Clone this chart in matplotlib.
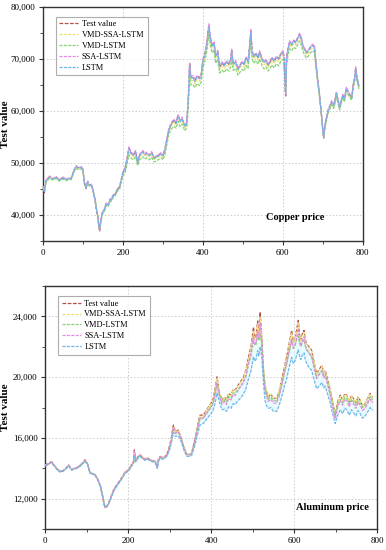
import matplotlib
matplotlib.use("Agg")
import matplotlib.pyplot as plt
from matplotlib.ticker import MultipleLocator, FuncFormatter

plt.rcParams['font.family'] = ['Liberation Serif', 'DejaVu Serif']

series_names = ["Test value", "VMD-SSA-LSTM", "VMD-LSTM", "SSA-LSTM", "LSTM"]
series_colors = ["#b5504a", "#f0e27a", "#86d474", "#e58ae0", "#6cb8ea"]

# ---------------- Copper ----------------
copper_x = [0, 4, 8, 17, 25, 33, 41, 50, 58, 65,
            71, 78, 83, 90, 96, 100, 104, 108, 112, 117,
            121, 125, 130, 134, 137, 140, 142, 145, 149, 154,
            158, 163, 168, 171, 176, 181, 186, 192, 196, 200,
            205, 210, 215, 220, 226, 232, 237, 242, 250, 256,
            259, 266, 272, 278, 284, 290, 296, 300, 305, 310,
            315, 322, 328, 333, 338, 343, 348, 355, 360, 364,
            367, 370, 376, 380, 386, 392, 396, 400, 405, 410,
            415, 419, 423, 428, 432, 437, 442, 448, 453, 459,
            465, 470, 472, 476, 482, 488, 493, 498, 503, 508,
            513, 517, 520, 523, 527, 533, 538, 542, 548, 553,
            558, 563, 568, 573, 578, 584, 590, 595, 600, 603,
            605, 607, 609, 613, 617, 622, 627, 632, 637, 642,
            646, 650, 655, 659, 664, 669, 675, 679, 683, 687,
            691, 695, 699, 702, 706, 710, 714, 717, 722, 727,
            731, 734, 738, 742, 746, 750, 754, 759, 764, 768,
            772, 776, 780, 782, 785, 788, 790]

copper_test = [45400, 44300, 46600, 47400, 46900, 47300, 46700, 47200, 46800, 47000,
               47050, 48600, 49300, 49000, 49200, 48800, 46000, 45100, 46400, 45600,
               45900, 44800, 43000, 41000, 39700, 37800, 36800, 39000, 40500, 41000,
               42200, 41800, 43000, 42900, 43800, 44000, 44900, 45400, 46800, 48100,
               48800, 50500, 52900, 52000, 51500, 52200, 50000, 51500, 52200, 51600,
               51900, 51400, 52000, 50900, 51200, 51500, 51800, 51300, 52500, 54500,
               56500, 57700, 58200, 57600, 59200, 58000, 58600, 57000, 57800, 63000,
               69200, 66500, 66600, 65800, 66700, 66300, 67000, 69800, 71000, 73000,
               76500, 74000, 72500, 73200, 70500, 71500, 68500, 69300, 68700, 69500,
               69000, 70000, 71700, 69000, 69500, 68000, 68800, 69400, 69000, 70200,
               69500, 72500, 75400, 71500, 70500, 71000, 70300, 71400, 70000, 69300,
               69800, 68800, 69500, 70200, 69600, 70400, 70000, 71000, 71400, 70500,
               66000, 62900, 70000, 72000, 73300, 72800, 73500, 73200, 74000, 74800,
               74000, 72500, 71800, 71200, 71600, 72300, 72700, 72300, 69000, 66000,
               63500, 60500, 57000, 54800, 57500, 59000, 60300, 60800, 61800, 61000,
               62200, 63500, 62000, 60600, 62000, 63000, 62300, 64400, 63500, 63000,
               62500, 65000, 66500, 68300, 66500, 65500, 64700]

copper_vmd_ssa_lstm = [45200, 44600, 46400, 47200, 46800, 47100, 46600, 47000, 46700, 46900,
                       46900, 48400, 49100, 48900, 49000, 48700, 46200, 45200, 46200, 45600,
                       45800, 44900, 43200, 41200, 39900, 38100, 37200, 38800, 40300, 40900,
                       42000, 41800, 42800, 42800, 43600, 43900, 44700, 45300, 46600, 47900,
                       48500, 50200, 52300, 51600, 51200, 51800, 50000, 51200, 51800, 51300,
                       51500, 51200, 51700, 50700, 51000, 51200, 51500, 51100, 52200, 54200,
                       56200, 57300, 57800, 57300, 58700, 57700, 58200, 56800, 57500, 62500,
                       68200, 65800, 65900, 65200, 66100, 65700, 66400, 69000, 70400, 72300,
                       75600, 73400, 72000, 72600, 70000, 70900, 68000, 68700, 68200, 68900,
                       68500, 69400, 71000, 68600, 69000, 67600, 68300, 68800, 68500, 69600,
                       69000, 71800, 74600, 71000, 70000, 70500, 69800, 70800, 69500, 68900,
                       69300, 68400, 69000, 69700, 69100, 69900, 69500, 70400, 70800, 70100,
                       66300, 63500, 69400, 71500, 72700, 72300, 73000, 72700, 73400, 74200,
                       73500, 72100, 71300, 70800, 71200, 71800, 72200, 71800, 68800, 66000,
                       63400, 60500, 57200, 55200, 57300, 58800, 60100, 60600, 61500, 60800,
                       61900, 63200, 61800, 60500, 61800, 62700, 62100, 64100, 63300, 62800,
                       62400, 64700, 66200, 67900, 66300, 65300, 64500]

copper_vmd_lstm = [45300, 44800, 46300, 47100, 46700, 47000, 46500, 46900, 46600, 46800,
                   46800, 48300, 48900, 48700, 48900, 48500, 46300, 45300, 46100, 45500,
                   45700, 44900, 43300, 41300, 40000, 38300, 37500, 38600, 40100, 40700,
                   41800, 41600, 42600, 42600, 43400, 43700, 44500, 45000, 46300, 47500,
                   48000, 49600, 51600, 51000, 50600, 51200, 49500, 50600, 51200, 50700,
                   51000, 50600, 51100, 50200, 50400, 50700, 51000, 50600, 51500, 53600,
                   55600, 56600, 57100, 56700, 58000, 57000, 57500, 56200, 56800, 61600,
                   67500, 65000, 65000, 64500, 65300, 64900, 65600, 68200, 69600, 71500,
                   74800, 72600, 71200, 71800, 69200, 70000, 67300, 67900, 67400, 68100,
                   67700, 68600, 70100, 67800, 68200, 66900, 67500, 68000, 67700, 68800,
                   68200, 70900, 73700, 70200, 69200, 69700, 69000, 70000, 68700, 68100,
                   68500, 67700, 68200, 68900, 68300, 69100, 68700, 69600, 70000, 69300,
                   66000, 63500, 68600, 70800, 72000, 71600, 72300, 72000, 72800, 73500,
                   72800, 71500, 70700, 70200, 70600, 71200, 71600, 71200, 68200, 65500,
                   63000, 60200, 57000, 55100, 57000, 58500, 59800, 60300, 61200, 60500,
                   61600, 62900, 61500, 60200, 61500, 62400, 61800, 63800, 63000, 62500,
                   62100, 64400, 65900, 67600, 66000, 65000, 64200]

copper_ssa_lstm = [45600, 44500, 46700, 47500, 47000, 47400, 46800, 47300, 46900, 47100,
                   47200, 48700, 49500, 49100, 49300, 48900, 46100, 45200, 46500, 45700,
                   46000, 44900, 43100, 41100, 39800, 37900, 37000, 39100, 40600, 41100,
                   42300, 41900, 43100, 43000, 43900, 44100, 45000, 45500, 46900, 48300,
                   49000, 50700, 53100, 52200, 51700, 52400, 50200, 51700, 52400, 51800,
                   52100, 51600, 52200, 51100, 51400, 51700, 52000, 51500, 52700, 54700,
                   56700, 57900, 58400, 57800, 59400, 58200, 58800, 57200, 58000, 63300,
                   69400, 66700, 66800, 66000, 66900, 66500, 67200, 70000, 71200, 73300,
                   76800, 74200, 72700, 73400, 70700, 71700, 68700, 69500, 68900, 69700,
                   69200, 70200, 71900, 69200, 69700, 68200, 69000, 69600, 69200, 70400,
                   69700, 72700, 75700, 71700, 70700, 71200, 70500, 71600, 70200, 69500,
                   70000, 69000, 69700, 70400, 69800, 70600, 70200, 71200, 71600, 70700,
                   66200, 63000, 70200, 72200, 73500, 73000, 73700, 73400, 74200, 75000,
                   74200, 72700, 72000, 71400, 71800, 72500, 72900, 72500, 69200, 66200,
                   63700, 60700, 57200, 55000, 57700, 59200, 60500, 61000, 62000, 61200,
                   62400, 63700, 62200, 60800, 62200, 63200, 62500, 64600, 63700, 63200,
                   62700, 65200, 66700, 68500, 66700, 65700, 64900]

copper_lstm = [45500, 44600, 46500, 47300, 46900, 47200, 46700, 47100, 46800, 47000,
               47000, 48500, 49200, 49000, 49100, 48800, 46300, 45300, 46300, 45700,
               45900, 44900, 43200, 41200, 39900, 38000, 37100, 38900, 40400, 41000,
               42100, 41800, 42900, 42900, 43700, 44000, 44800, 45300, 46700, 48000,
               48700, 50400, 52700, 51900, 51400, 52100, 50100, 51400, 52100, 51600,
               51800, 51400, 51900, 50900, 51100, 51400, 51700, 51300, 52400, 54300,
               56300, 57600, 58100, 57600, 59000, 58000, 58500, 57000, 57700, 62600,
               68800, 66300, 66400, 65700, 66600, 66200, 66900, 69600, 70800, 72700,
               76100, 73900, 72400, 73100, 70500, 71400, 68500, 69200, 68700, 69400,
               69000, 69900, 71500, 69000, 69400, 68000, 68700, 69300, 69000, 70100,
               69500, 72200, 75100, 71400, 70500, 71000, 70300, 71300, 70000, 69300,
               69700, 68800, 69400, 70100, 69600, 70300, 70000, 70900, 71300, 70500,
               66500, 63200, 69700, 71800, 73200, 72700, 73400, 73100, 73900, 74600,
               73900, 72500, 71800, 71200, 71600, 72200, 72600, 72200, 69000, 66100,
               63600, 60600, 57200, 55000, 57500, 59000, 60300, 60800, 61700, 61000,
               62100, 63400, 62000, 60600, 62000, 62900, 62300, 64300, 63500, 63000,
               62500, 64900, 66400, 68100, 66500, 65500, 64700]

# ---------------- Aluminum ----------------
alu_x = [0, 8, 15, 22, 29, 36, 43, 50, 56, 64,
         70, 77, 84, 90, 96, 102, 108, 114, 120, 126,
         133, 138, 142, 145, 149, 153, 158, 165, 172, 181,
         187, 193, 201, 207, 213, 215, 218, 224, 229, 235,
         241, 247, 253, 260, 266, 270, 273, 277, 285, 293,
         299, 304, 309, 314, 321, 325, 329, 335, 341, 347,
         353, 359, 365, 373, 381, 388, 395, 400, 405, 410,
         414, 420, 426, 432, 437, 442, 448, 453, 458, 463,
         468, 473, 478, 484, 490, 496, 502, 505, 508, 512,
         515, 518, 522, 526, 530, 534, 538, 544, 550, 558,
         564, 570, 576, 582, 588, 594, 598, 602, 606, 610,
         613, 616, 620, 624, 627, 630, 636, 642, 648, 654,
         660, 667, 671, 675, 681, 687, 693, 699, 705, 711,
         717, 722, 727, 733, 738, 743, 749, 754, 759, 765,
         771, 777, 783, 787, 790]

alu_test = [14230, 14300, 14450, 14200, 13950, 13790, 13850, 14000, 14230, 13900,
            14000, 14050, 14200, 14350, 14560, 14300, 13690, 13650, 13580, 13300,
            12810, 12200, 11600, 11390, 11500, 11720, 12100, 12600, 12900, 13250,
            13500, 13790, 13900, 14200, 14450, 15210, 14500, 14800, 14890, 14700,
            14600, 14700, 14560, 14500, 14450, 14000, 14600, 14780, 14700, 14890,
            15400, 16000, 16850, 16400, 16520, 16200, 15870, 15300, 14890, 14890,
            15000, 15700, 16520, 17500, 17500, 17800, 18100, 18300, 18600, 19300,
            20020, 19000, 18490, 18700, 18500, 18930, 18800, 19200, 19150, 19400,
            19600, 19800, 20020, 20500, 21330, 22000, 23300, 22600, 22650, 23700,
            23000, 24280, 22650, 20500, 19380, 19000, 18710, 18900, 18600, 18600,
            19100, 19800, 20600, 21330, 22200, 23080, 22300, 22540, 23100, 23740,
            22800, 22430, 22900, 23080, 22500, 22210, 22000, 21770, 21000, 20240,
            20500, 20790, 20300, 20460, 19800, 19150, 18300, 17510, 18400, 18820,
            18500, 18900, 18820, 18400, 18800, 18600, 18300, 18700, 18490, 18100,
            18270, 18600, 18930, 18700, 18710]

alu_vmd_ssa_lstm = [14200, 14280, 14420, 14200, 13960, 13800, 13850, 13990, 14200, 13920,
                    13990, 14040, 14180, 14330, 14520, 14300, 13720, 13660, 13590, 13320,
                    12850, 12250, 11650, 11420, 11500, 11700, 12080, 12570, 12880, 13220,
                    13480, 13760, 13880, 14170, 14420, 15050, 14520, 14770, 14860, 14700,
                    14600, 14680, 14560, 14500, 14440, 14050, 14560, 14750, 14700, 14870,
                    15350, 15950, 16750, 16400, 16480, 16200, 15880, 15330, 14930, 14900,
                    15000, 15650, 16450, 17420, 17450, 17750, 18050, 18250, 18550, 19200,
                    19900, 18980, 18480, 18650, 18480, 18880, 18770, 19150, 19100, 19350,
                    19550, 19750, 19950, 20420, 21200, 21850, 23050, 22500, 22550, 23450,
                    22900, 23900, 22600, 20600, 19450, 19050, 18750, 18900, 18620, 18600,
                    19080, 19750, 20550, 21250, 22100, 22900, 22250, 22450, 22950, 23500,
                    22750, 22400, 22800, 22950, 22450, 22200, 21950, 21700, 21000, 20250,
                    20450, 20700, 20300, 20400, 19800, 19150, 18350, 17600, 18350, 18750,
                    18480, 18850, 18780, 18400, 18750, 18580, 18300, 18650, 18470, 18120,
                    18250, 18550, 18880, 18680, 18700]

alu_vmd_lstm = [14200, 14270, 14400, 14180, 13950, 13800, 13840, 13980, 14180, 13920,
                13980, 14030, 14160, 14300, 14480, 14280, 13740, 13660, 13600, 13340,
                12880, 12300, 11700, 11450, 11520, 11700, 12050, 12530, 12850, 13180,
                13450, 13720, 13850, 14130, 14380, 14900, 14500, 14730, 14820, 14680,
                14580, 14650, 14540, 14480, 14420, 14080, 14520, 14700, 14660, 14830,
                15250, 15800, 16550, 16300, 16380, 16150, 15850, 15350, 14950, 14920,
                14980, 15550, 16300, 17250, 17300, 17600, 17900, 18100, 18350, 18950,
                19600, 18850, 18350, 18500, 18350, 18700, 18600, 18950, 18950, 19100,
                19300, 19500, 19700, 20100, 20850, 21400, 22400, 22100, 22150, 22800,
                22400, 22800, 22300, 20500, 19300, 18850, 18550, 18700, 18450, 18450,
                18900, 19500, 20250, 20900, 21650, 22350, 21900, 22050, 22450, 22700,
                22300, 22000, 22300, 22450, 22050, 21800, 21550, 21350, 20750, 20050,
                20200, 20450, 20100, 20200, 19600, 18950, 18200, 17550, 18150, 18550,
                18300, 18650, 18600, 18250, 18550, 18400, 18150, 18450, 18300, 18000,
                18100, 18350, 18700, 18550, 18550]

alu_ssa_lstm = [14220, 14290, 14430, 14190, 13950, 13790, 13850, 13990, 14210, 13900,
                13990, 14040, 14190, 14330, 14530, 14290, 13700, 13650, 13580, 13310,
                12830, 12230, 11640, 11410, 11490, 11710, 12080, 12570, 12870, 13220,
                13470, 13760, 13870, 14160, 14400, 15100, 14480, 14760, 14850, 14680,
                14580, 14670, 14540, 14480, 14420, 14020, 14550, 14740, 14680, 14850,
                15300, 15900, 16700, 16350, 16420, 16150, 15820, 15280, 14900, 14880,
                14960, 15600, 16350, 17300, 17300, 17550, 17850, 18000, 18300, 18950,
                19600, 18700, 18200, 18400, 18200, 18600, 18500, 18850, 18800, 19050,
                19250, 19450, 19650, 20100, 20900, 21550, 22700, 22200, 22250, 23100,
                22600, 23600, 22200, 20200, 19050, 18700, 18400, 18550, 18300, 18300,
                18750, 19450, 20200, 20900, 21750, 22550, 21900, 22100, 22600, 23200,
                22400, 22050, 22450, 22650, 22100, 21850, 21600, 21400, 20650, 19900,
                20150, 20400, 19950, 20100, 19450, 18800, 17950, 17250, 18050, 18450,
                18150, 18550, 18450, 18050, 18450, 18250, 17950, 18350, 18150, 17800,
                17950, 18250, 18550, 18350, 18400]

alu_lstm = [14150, 14250, 14380, 14150, 13900, 13750, 13800, 13950, 14150, 13880,
            13950, 14000, 14130, 14280, 14470, 14250, 13700, 13620, 13550, 13300,
            12850, 12280, 11700, 11450, 11480, 11650, 12000, 12480, 12800, 13150,
            13400, 13680, 13820, 14080, 14320, 14850, 14420, 14680, 14780, 14620,
            14520, 14600, 14480, 14420, 14370, 14000, 14450, 14640, 14600, 14780,
            15150, 15650, 16350, 16100, 16150, 15950, 15650, 15150, 14800, 14780,
            14850, 15350, 16000, 16850, 16950, 17200, 17450, 17600, 17850, 18350,
            18950, 18350, 17850, 17900, 17750, 18050, 17950, 18250, 18200, 18400,
            18550, 18700, 18900, 19250, 19900, 20400, 21350, 21050, 21150, 21750,
            21400, 22000, 21350, 19600, 18450, 18100, 17950, 18000, 17750, 17750,
            18150, 18700, 19350, 19900, 20650, 21300, 20900, 21050, 21450, 21800,
            21400, 21150, 21450, 21600, 21150, 20900, 20650, 20450, 19850, 19250,
            19400, 19650, 19300, 19400, 18850, 18300, 17550, 16950, 17500, 17850,
            17600, 17950, 17850, 17500, 17850, 17650, 17450, 17800, 17600, 17300,
            17450, 17700, 18000, 17850, 17850]

panels = [
    dict(x=copper_x, ys=[copper_test, copper_vmd_ssa_lstm, copper_vmd_lstm, copper_ssa_lstm, copper_lstm],
         pos=[0.111, 0.562, 0.829, 0.425], ylim=(35000, 80000), major=10000, minor=5000,
         title="Copper price", tpos=(0.79, 0.10), labx=-0.117),
    dict(x=alu_x, ys=[alu_test, alu_vmd_ssa_lstm, alu_vmd_lstm, alu_ssa_lstm, alu_lstm],
         pos=[0.117, 0.038, 0.860, 0.442], ylim=(10000, 26000), major=4000, minor=2000,
         title="Aluminum price", tpos=(0.865, 0.09), labx=-0.119),
]

fig = plt.figure(figsize=(3.86, 5.50), dpi=100)
fmt = FuncFormatter(lambda v, p: f"{int(v):,}")

for pnl in panels:
    ax = fig.add_axes(pnl["pos"])
    x = pnl["x"]
    ys = pnl["ys"]
    ax.fill_between(x, ys[0], ys[4], color="#d9f7fb", alpha=0.6, linewidth=0, zorder=1)
    for i, (name, col, y) in enumerate(zip(series_names, series_colors, ys)):
        ax.plot(x, y, color=col, lw=0.9, ls=(0, (3, 1.2)) if i == 0 else (0, (2.5, 1)),
                label=name, zorder=2 + i)
    ax.set_xlim(0, 800)
    ax.set_ylim(*pnl["ylim"])
    ax.xaxis.set_major_locator(MultipleLocator(200))
    ax.xaxis.set_minor_locator(MultipleLocator(100))
    ax.yaxis.set_major_locator(MultipleLocator(pnl["major"]))
    ax.yaxis.set_minor_locator(MultipleLocator(pnl["minor"]))
    ax.yaxis.set_major_formatter(fmt)
    ax.tick_params(which="both", direction="out", labelsize=6.5, color="#333333", pad=2.5)
    ax.tick_params(which="major", length=3, width=0.8)
    ax.tick_params(which="minor", length=2, width=0.6)
    ax.grid(True, which="major", ls=(0, (1.5, 2)), color="#cccccc", lw=0.7)
    ax.set_axisbelow(True)
    for s in ax.spines.values():
        s.set_color("#333333")
        s.set_linewidth(1.0)
    ax.set_ylabel("Test value", fontsize=8, fontweight="bold", ha="center", va="center")
    ax.yaxis.set_label_coords(pnl["labx"], 0.5)
    ax.text(pnl["tpos"][0], pnl["tpos"][1], pnl["title"], transform=ax.transAxes,
            ha="center", va="center", fontsize=7.5, fontweight="bold")
    leg = ax.legend(loc="upper left", bbox_to_anchor=(0.035, 0.965), fontsize=6,
                    frameon=True, fancybox=False, edgecolor="#999999",
                    handlelength=2.3, handletextpad=0.4, borderpad=0.4,
                    labelspacing=0.35, borderaxespad=0.2)
    leg.get_frame().set_linewidth(0.8)

fig.savefig("out.png", dpi=100)
